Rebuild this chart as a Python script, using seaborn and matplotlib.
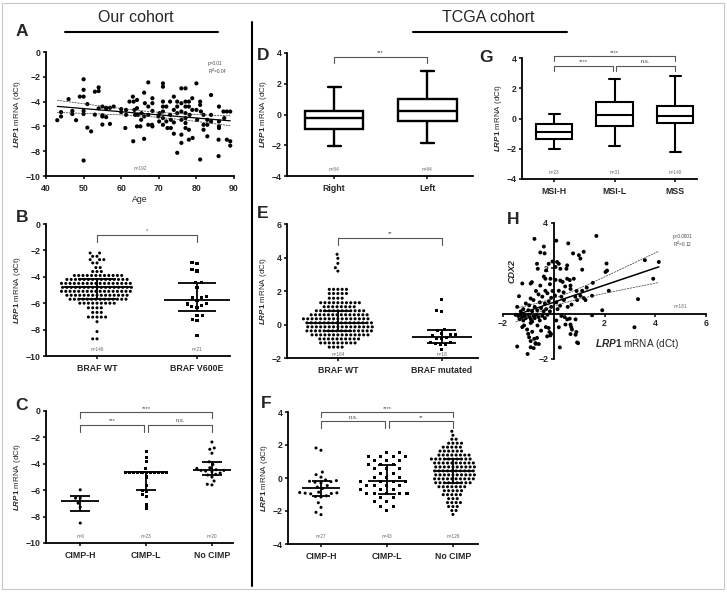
import numpy as np
import pandas as pd
import seaborn as sns
import matplotlib.pyplot as plt
from matplotlib.lines import Line2D
from matplotlib.patches import Rectangle

# -------------------
# Data
# -------------------
# A: age vs LRP1 dCt (our cohort)
a_age = [43, 44, 44, 46, 47, 47, 48, 49, 50, 50, 50, 50, 50, 50, 51, 51, 52, 53, 53,
         54, 54, 54, 55, 55, 55, 55, 56, 56, 56, 57, 57, 58, 60, 60,
         61.3, 61.3, 61.1, 62.2, 63.1, 63.3, 63.5, 63.7, 63.2, 64.2, 64.2, 64.4, 64.2,
         65.1, 65.4, 65.3, 66.1, 66.3, 66.1, 66.1, 67.2, 67.2, 67.2, 67.2,
         68.3, 68.3, 68.2, 68.3, 68.3, 69.9, 70.1, 70.2, 71.1, 71.1, 71.1, 71.1, 71.1, 71.1, 71.1,
         72, 72, 72.3, 73, 73, 73.2, 73.2, 74, 74, 74, 74, 74.9, 74.9, 74.9, 74.9,
         76, 76, 76, 76, 76, 76, 77.1, 77.1, 77.1, 77.1, 77.1, 77.1, 77.1,
         78, 78, 78.2, 78, 78, 78.9, 78.9, 79, 80, 80, 80.2, 81, 81, 81.2, 81,
         81.9, 81.9, 81.9, 82.9, 82.9, 82.9, 83.9, 83.9, 83.9, 86, 86, 86, 86, 85.9, 85.9,
         87.2, 87.4, 88.1, 88.1, 89, 89, 89]
a_lrp1 = [-5.5, -5.2, -4.85, -3.8, -4.75, -5.0, -5.5, -3.6, -2.2, -3.05, -3.6, -4.75, -5.0, -8.75,
          -4.2, -6.1, -6.4, -3.2, -5.05, -2.85, -3.15, -4.55, -4.4, -5.1, -5.85, -5.2,
          -4.55, -4.5, -5.25, -4.5, -5.8, -4.4, -4.6, -4.85,
          -4.67, -5.07, -6.13, -4.0, -3.6, -4.0, -4.67, -5.07, -7.2, -3.87, -4.53, -5.07, -6.0,
          -6.0, -4.93, -5.47, -3.28, -4.13, -5.2, -7.0, -2.45, -4.4, -5.87, -5.07,
          -3.73, -4.13, -5.87, -6.0, -4.75, -5.2, -5.6, -4.93, -2.53, -2.8, -4.0, -4.4, -4.8, -5.33, -5.87,
          -4.4, -5.6, -6.13, -4.0, -5.07, -5.47, -6.13, -3.6, -4.67, -5.68, -6.59, -4.0, -4.4, -4.93, -8.13,
          -2.93, -4.13, -4.8, -5.47, -6.67, -7.33, -2.93, -4.0, -4.4, -4.93, -5.33, -5.73, -6.13,
          -4.0, -4.4, -5.07, -6.27, -7.07, -3.73, -4.67, -6.93, -2.53, -4.67, -5.47, -4.0, -4.27, -4.8, -8.67,
          -5.07, -5.87, -6.27, -5.47, -5.87, -6.8, -3.47, -5.07, -5.6, -4.4, -5.6, -6.0, -6.13, -7.07, -8.4,
          -4.8, -5.33, -4.8, -7.07, -4.8, -7.2, -7.55]

# B: BRAF status (our cohort); WT column is drawn in rows of equal values
b_wt_levels = [-2.2, -2.45, -2.7, -2.95, -3.3, -3.6, -3.9, -4.2, -4.5, -4.8, -5.1,
               -5.4, -5.7, -6.0, -6.35, -6.7, -7.05, -7.4, -8.15, -8.7]
b_wt_counts = [2, 2, 3, 2, 2, 3, 12, 15, 17, 17, 17, 15, 14, 9, 4, 3, 5, 1, 1, 2]
b_v600e = [-2.9, -2.98, -3.48, -3.56, -4.44, -4.44, -4.8, -5.5, -5.56, -5.58, -5.76,
           -6.0, -6.06, -6.15, -6.26, -6.31, -6.9, -6.9, -7.22, -7.32, -8.43]

# C: CIMP status (our cohort)
c_cimp_h = [-5.97, -6.6, -6.6, -6.98, -7.28, -8.49]
c_cimp_l = [-3.07, -3.53, -3.83, -4.36, -4.65, -4.65, -4.65, -4.65, -4.65, -4.65, -4.65,
            -4.65, -4.65, -4.65, -4.65, -5.0, -5.65, -6.0, -6.1, -6.35, -6.45, -7.05, -7.35]
c_no_cimp = [-2.35, -2.8, -2.9, -3.2, -3.85, -4.05, -4.3, -4.35, -4.45, -4.5, -4.5, -4.55,
             -4.6, -4.7, -4.8, -4.85, -5.0, -5.3, -5.55, -5.6]

# D: tumour side (TCGA), box stats = min, q1, median, q3, max
d_right = [-2.06, -0.97, -0.25, 0.23, 1.78]
d_left = [-1.88, -0.40, 0.25, 1.01, 2.80]

# E: BRAF status (TCGA)
e_wt_levels = [4.19, 3.95, 3.65, 3.39, 3.19, 2.1, 1.85, 1.57, 1.3, 1.06, 0.82, 0.58,
               0.34, 0.1, -0.14, -0.38, -0.62, -0.86, -1.1, -1.35]
e_wt_counts = [1, 1, 1, 1, 1, 5, 5, 4, 10, 8, 12, 14, 16, 16, 16, 16, 14, 10, 9, 4]
e_mut = [1.47, 0.83, 0.78, -0.32, -0.35, -0.55, -0.6, -0.62, -0.65, -0.8, -0.82, -0.85,
         -1.05, -1.1, -1.12, -1.2, -1.22, -1.5]

# F: CIMP status (TCGA)
f_cimp_h = [1.82, 1.68, 0.36, 0.2, 0.05, -0.12, -0.16, -0.2, -0.22, -0.26, -0.3, -0.46, -0.55,
            -0.63, -0.86, -0.88, -0.9, -0.92, -0.94, -0.96, -1.08, -1.12, -1.15, -1.5, -1.78,
            -2.08, -2.22]
f_cimpl_levels = [1.55, 1.3, 1.05, 0.8, 0.55, 0.3, 0.05, -0.2, -0.45, -0.7, -0.95,
                  -1.2, -1.45, -1.7, -1.95]
f_cimpl_counts = [2, 4, 3, 3, 3, 2, 3, 4, 4, 3, 5, 2, 2, 2, 1]
f_no_levels = [2.83, 2.59, 2.35, 2.11, 1.87, 1.63, 1.39, 1.15, 0.91, 0.67, 0.43, 0.19,
               -0.05, -0.29, -0.53, -0.77, -1.01, -1.25, -1.49, -1.73, -1.97, -2.21]
f_no_counts = [1, 1, 2, 4, 5, 6, 8, 10, 10, 10, 10, 10, 10, 9, 7, 5, 5, 3, 4, 3, 2, 1]

# G: MSI status (TCGA), box stats = min, q1, median, q3, max
g_msi_h = [-2.0, -1.38, -0.87, -0.38, 0.3]
g_msi_l = [-1.85, -0.48, 0.22, 1.1, 2.62]
g_mss = [-2.2, -0.33, 0.18, 0.84, 2.84]

# H: LRP1 vs CDX2 (TCGA)
h_lrp1 = [-0.76, -0.39, -0.53, -0.36, -0.66, -0.63, -0.30, -0.39, -0.33, -0.86,
          -0.53, -0.33, -1.24, -0.91, -1.37, -0.91, -0.97, -1.44, -0.13, -0.20,
          -0.15, -0.70, -0.60, -0.45, -0.25, -0.10, -0.80, -0.55, -0.35, -0.20,
          -1.10, -1.20, -0.75, -0.50, -0.30, -0.10, -1.00, -0.85, -0.65, -0.40,
          -0.15, -1.30, -0.05, -0.05,
          -1.50, -1.40, -1.30, -1.25, -1.15, -1.10, -1.00, -0.95, -0.90, -0.80,
          -0.75, -0.70, -0.60, -0.55, -0.45, -0.35, -0.25, -1.35, -1.20, -0.85,
          -1.17, -1.24, -0.91, -0.64, -0.31, -0.17, -0.11, -1.44, -1.01, -0.97,
          -0.91, -0.77, -0.71, -1.03, -0.91, -0.20, -0.13, -0.26, -0.66, -0.72,
          -0.59, -0.79, -1.05, -0.50, -0.85,
          0.10, 0.57, 0.13, 0.20, 0.07, 0.26, 0.53, 0.50, 0.76, 0.99,
          1.18, 1.05, 1.12, 1.68, 1.54, 2.08, 2.04, 2.10, 0.07, 0.26,
          0.35, 0.53, 0.63, 0.79, 0.66, 0.20, 0.39, 0.66, 1.12, 1.05,
          1.18, 1.25, 0.92, 0.85, 1.51, 2.17, 3.32, 3.59, 4.14, 3.92,
          1.91, 0.10, 0.25, 0.40, 0.15, 0.55, 0.70, 0.05, 0.30, 0.45,
          1.30, 0.90,
          1.51, 3.18, 0.53, 0.66, 0.46, 0.86, 0.72, 0.66, 0.86, 0.92,
          0.24, 0.96, 0.89, 0.69, 0.63, 0.43, 0.30, 0.10, 0.20]
h_cdx2 = [3.30, 2.96, 2.70, 2.66, 2.20, 1.98, 1.91, 1.64, 1.54, 1.39,
          1.24, 1.01, 1.33, 1.33, 0.77, 0.67, 0.37, 0.30, 1.54, 2.20,
          1.30, 1.00, 0.85, 0.75, 0.90, 0.70, 0.60, 0.50, 0.45, 0.55,
          0.45, 0.20, 0.30, 0.25, 0.20, 0.30, 0.15, 0.10, 0.15, 0.10,
          0.10, 0.10, 1.00, 2.30,
          -0.05, -0.10, -0.02, -0.15, -0.08, -0.20, -0.05, -0.15, -0.25, -0.10,
          -0.20, -0.05, -0.15, -0.30, -0.10, -0.20, -0.05, -0.25, -0.30, -0.35,
          -0.52, -0.59, -0.41, -0.52, -0.59, -0.81, -0.89, -1.45, -0.89, -1.04,
          -1.21, -1.11, -1.33, -1.78, -1.48, -0.63, -0.96, -1.00, -1.07, -1.30,
          -1.34, -1.52, -0.70, -0.75, -0.80,
          3.22, 3.10, 2.28, 2.20, 2.06, 1.98, 2.13, 1.98, 2.66, 2.58,
          2.73, 2.43, 1.94, 3.43, 1.36, 2.21, 1.84, 1.90, 1.49, 1.46,
          1.40, 1.54, 1.48, 1.54, 1.24, 1.01, 0.94, 1.09, 1.01, 0.79,
          0.69, 0.60, 0.60, 0.75, 0.79, 1.01, 0.64, 2.36, 2.28, 1.54,
          0.15, 0.50, 0.35, 0.60, 0.20, 0.30, 0.40, 0.80, 0.75, 1.20,
          1.15, 1.00,
          -0.07, -0.60, -0.25, -0.48, -0.48, -0.25, -0.70, -0.90, -0.93, -1.27,
          -1.49, -1.30, -0.81, -0.59, -0.22, -0.15, -0.10, -0.30, -0.60]

# -------------------
# Styling
# -------------------
sns.set_theme(style="ticks")
plt.rcParams['font.family'] = ['Liberation Sans', 'DejaVu Sans']
plt.rcParams['font.weight'] = 'bold'
plt.rcParams['mathtext.fontset'] = 'custom'
plt.rcParams['mathtext.rm'] = 'Liberation Sans'
plt.rcParams['mathtext.it'] = 'Liberation Sans:italic'
plt.rcParams['mathtext.bf'] = 'Liberation Sans:bold'

FW, FH = 727, 594
LRP1_LABEL = r"$\mathit{LRP1}$ mRNA (dCt)"
BRK = '#555555'


def rect(l, t, r, b):
    return [l / FW, 1 - b / FH, (r - l) / FW, (b - t) / FH]


def fxy(x, y):
    return x / FW, 1 - y / FH


def style(ax, yticks, xlim=None, ylabel=True):
    sns.despine(ax=ax)
    for s in ['left', 'bottom']:
        ax.spines[s].set_linewidth(1.3)
        ax.spines[s].set_color('black')
    ax.set_yticks(yticks)
    ax.set_ylim(min(yticks), max(yticks))
    if xlim is not None:
        ax.set_xlim(*xlim)
        ax.tick_params(axis='x', length=0, pad=3)
    ax.tick_params(labelsize=6.3, width=1.1, length=2.5, color='black')
    ax.tick_params(axis='y', pad=1.5)
    ax.set_xlabel('')
    ax.set_ylabel(LRP1_LABEL if ylabel else '', fontsize=5.8, fontweight='normal', labelpad=1.5)
    ax.set_facecolor('none')


def swarm(ax, groups, names, markers, pads=None, size=2.2):
    # pad = invisible edge width, widens the spacing between neighbouring dots
    pads = pads or [0.75] * len(groups)
    for g, name, mk, pad in zip(groups, names, markers, pads):
        sns.swarmplot(x=[name] * len(g), y=g, order=names, marker=mk, size=size,
                      color='black', edgecolor='none', linewidth=pad, warn_thresh=1, ax=ax)


def median_iqr(ax, groups, half=0.3, cap=0.15, lw=1.3):
    for i, g in enumerate(groups):
        q1, med, q3 = np.percentile(g, [25, 50, 75], method='weibull')
        kw = dict(color='black', lw=lw, zorder=4, solid_capstyle='butt')
        ax.plot([i - half, i + half], [med, med], **kw)
        ax.plot([i, i], [q1, q3], **kw)
        ax.plot([i - cap, i + cap], [q1, q1], **kw)
        ax.plot([i - cap, i + cap], [q3, q3], **kw)


def bracket(ax, x1, x2, y, h, label):
    ax.plot([x1, x1, x2, x2], [y - h, y, y, y - h], color=BRK, lw=0.8, clip_on=False)
    ax.text((x1 + x2) / 2, y + h * 0.25, label, ha='center', va='bottom',
            fontsize=4.2, color='#444444', fontweight='normal')


def n_labels(ax, labels, y):
    for i, lab in enumerate(labels):
        ax.text(i, y, lab, ha='center', va='center', fontsize=3.4,
                color='#666666', fontweight='normal')


def narrow_caps(ax, stats, half):
    for line in ax.lines:
        xd = np.asarray(line.get_xdata(), float)
        yd = np.asarray(line.get_ydata(), float)
        if len(xd) == 2 and yd[0] == yd[1] and xd[0] != xd[1]:
            for i, st in enumerate(stats):
                if abs(xd.mean() - i) < 0.05 and (np.isclose(yd[0], min(st)) or np.isclose(yd[0], max(st))):
                    line.set_xdata([i - half, i + half])


def fit_lines(ax, x, y, lw=1.0):
    x = np.asarray(x, float)
    y = np.asarray(y, float)
    b, a = np.polyfit(x, y, 1)
    xs = np.linspace(x.min(), x.max(), 60)
    n = len(x)
    s = np.sqrt(np.sum((y - (a + b * x)) ** 2) / (n - 2))
    se = s * np.sqrt(1 / n + (xs - x.mean()) ** 2 / np.sum((x - x.mean()) ** 2))
    ax.plot(xs, a + b * xs, color='black', lw=lw, zorder=4)
    for sign in (1, -1):
        ax.plot(xs, a + b * xs + sign * 1.97 * se, color='#333333', lw=0.5,
                ls=(0, (3, 1.2)), zorder=4)


fig = plt.figure(figsize=(7.27, 5.94), dpi=100)

# -------------------
# A: scatter vs age
# -------------------
ax = fig.add_axes(rect(46, 52, 234, 176))
sns.scatterplot(x=a_age, y=a_lrp1, s=9, color='black', edgecolor='none', ax=ax)
fit_lines(ax, a_age, a_lrp1, lw=0.9)
style(ax, [-10, -8, -6, -4, -2, 0])
ax.set_xlim(40, 90)
ax.set_xticks([40, 50, 60, 70, 80, 90])
ax.set_xlabel('Age', fontsize=6.3, labelpad=1)
ax.text(83.0, -1.35, "p=0.01\nR$^2$=0.04", fontsize=3.4, ha='left', va='center',
        color='#444444', fontweight='normal', linespacing=1.1)
ax.text(65, -9.4, "n=192", fontsize=3.4, ha='center', va='center', color='#666666',
        fontweight='normal')

# -------------------
# B: BRAF (our cohort)
# -------------------
ax = fig.add_axes(rect(46, 224, 230, 356))
b_wt = np.repeat(b_wt_levels, b_wt_counts)
swarm(ax, [b_wt, b_v600e], ['BRAF WT', 'BRAF V600E'], ['o', 's'], pads=[0.75, 1.3])
median_iqr(ax, [b_wt, b_v600e], half=0.33, cap=0.19)
style(ax, [-10, -8, -6, -4, -2, 0], xlim=(-0.51, 1.33))
bracket(ax, 0, 1, -0.8, 0.55, '*')
n_labels(ax, ['n=146', 'n=21'], -9.5)

# -------------------
# C: CIMP (our cohort)
# -------------------
ax = fig.add_axes(rect(46, 411, 233, 543))
swarm(ax, [c_cimp_h, c_cimp_l, c_no_cimp], ['CIMP-H', 'CIMP-L', 'No CIMP'], ['o', 's', 'o'],
      pads=[1.0, 0.6, 1.0])
median_iqr(ax, [c_cimp_h, c_cimp_l, c_no_cimp], half=0.29, cap=0.15)
style(ax, [-10, -8, -6, -4, -2, 0], xlim=(-0.52, 2.32))
bracket(ax, 0, 2, -0.1, 0.4, '****')
bracket(ax, 0, 0.97, -1.06, 0.5, '***')
bracket(ax, 1.03, 2, -1.06, 0.5, 'n.s.')
n_labels(ax, ['n=6', 'n=23', 'n=20'], -9.5)

# -------------------
# D: side (TCGA) box plot
# -------------------
ax = fig.add_axes(rect(287, 53, 473, 176))
d_df = pd.DataFrame({'side': ['Right'] * len(d_right) + ['Left'] * len(d_left),
                     'val': d_right + d_left})
sns.boxplot(data=d_df, x='side', y='val', order=['Right', 'Left'], whis=(0, 100),
            width=0.63, color='white', linecolor='black', linewidth=1.7,
            showfliers=False, ax=ax)
narrow_caps(ax, [d_right, d_left], 0.07)
style(ax, [-4, -2, 0, 2, 4], xlim=(-0.505, 1.49))
bracket(ax, 0, 1, 3.74, 0.4, '***')
n_labels(ax, ['n=54', 'n=84'], -3.6)

# -------------------
# E: BRAF (TCGA)
# -------------------
ax = fig.add_axes(rect(287, 224, 478, 358))
e_wt = np.repeat(e_wt_levels, e_wt_counts)
swarm(ax, [e_wt, e_mut], ['BRAF WT', 'BRAF mutated'], ['o', 's'], pads=[0.75, 1.3])
median_iqr(ax, [e_wt, e_mut], half=0.29, cap=0.14)
style(ax, [-2, 0, 2, 4, 6], xlim=(-0.49, 1.35))
bracket(ax, 0, 1, 5.18, 0.45, '**')
n_labels(ax, ['n=164', 'n=18'], -1.8)

# -------------------
# F: CIMP (TCGA)
# -------------------
ax = fig.add_axes(rect(288, 412, 478, 544))
f_cimp_l = np.repeat(f_cimpl_levels, f_cimpl_counts)
f_no = np.repeat(f_no_levels, f_no_counts)
swarm(ax, [f_cimp_h, f_cimp_l, f_no], ['CIMP-H', 'CIMP-L', 'No CIMP'], ['o', 's', 'o'],
      pads=[1.6, 3.0, 0.75])
median_iqr(ax, [f_cimp_h, f_cimp_l, f_no], half=0.29, cap=0.14)
style(ax, [-4, -2, 0, 2, 4], xlim=(-0.5, 2.38))
bracket(ax, 0, 2, 4.0, 0.32, '****')
bracket(ax, 0, 0.97, 3.43, 0.4, 'n.s.')
bracket(ax, 1.03, 2, 3.43, 0.4, '**')
n_labels(ax, ['n=27', 'n=43', 'n=126'], -3.55)

# -------------------
# G: MSI (TCGA) box plot
# -------------------
ax = fig.add_axes(rect(522, 58, 697, 179))
g_names = ['MSI-H', 'MSI-L', 'MSS']
g_df = pd.DataFrame({'msi': [g_names[0]] * 5 + [g_names[1]] * 5 + [g_names[2]] * 5,
                     'val': g_msi_h + g_msi_l + g_mss})
sns.boxplot(data=g_df, x='msi', y='val', order=g_names, whis=(0, 100), width=0.6,
            color='white', linecolor='black', linewidth=1.5, showfliers=False, ax=ax)
narrow_caps(ax, [g_msi_h, g_msi_l, g_mss], 0.09)
style(ax, [-4, -2, 0, 2, 4], xlim=(-0.53, 2.36))
bracket(ax, 0, 2, 4.1, 0.32, '****')
bracket(ax, 0, 0.97, 3.5, 0.33, '****')
bracket(ax, 1.03, 2, 3.5, 0.33, 'n.s.')
n_labels(ax, ['n=23', 'n=31', 'n=140'], -3.6)

# -------------------
# H: LRP1 vs CDX2 (TCGA)
# -------------------
ax = fig.add_axes(rect(503, 223, 706, 359))
sns.scatterplot(x=h_lrp1, y=h_cdx2, s=8, color='black', edgecolor='none', ax=ax)
fit_lines(ax, h_lrp1, h_cdx2, lw=1.1)
sns.despine(ax=ax)
ax.set_facecolor('none')
ax.set_xlim(-2, 6)
ax.set_ylim(-2, 4)
for s in ['left', 'bottom']:
    ax.spines[s].set_position(('data', 0))
    ax.spines[s].set_linewidth(1.3)
    ax.spines[s].set_color('black')
ax.set_xticks([-2, 2, 4, 6])
ax.set_yticks([-2, 2, 4])
ax.tick_params(labelsize=6.3, width=1.1, length=2.5, pad=1.5, color='black')
ax.text(-1.65, 1.9, 'CDX2', rotation=90, ha='center', va='center', fontsize=6.5,
        fontweight='bold', fontstyle='italic')
ax.text(3.3, -1.35, LRP1_LABEL, ha='center', va='center', fontsize=7.2, fontweight='normal')
ax.text(4.7, 3.2, "p<0.0001\nR$^2$=0.12", fontsize=3.4, ha='left', va='center',
        color='#444444', fontweight='normal', linespacing=1.1)
ax.text(5.0, 0.3, "n=181", fontsize=3.4, ha='center', va='center', color='#666666',
        fontweight='normal')

# -------------------
# Panel letters, headers, dividers, frame
# -------------------
for letter, (x, y) in {'A': (22, 32), 'B': (22, 218), 'C': (22, 405), 'D': (263, 55),
                       'E': (263, 213), 'F': (266, 403), 'G': (486, 57), 'H': (513, 220)}.items():
    fig.text(*fxy(x, y), letter, fontsize=12.5, fontweight='bold', ha='center', va='center')

fig.text(*fxy(136, 17), 'Our cohort', fontsize=11.5, fontweight='normal', ha='center', va='center')
fig.text(*fxy(488, 17), 'TCGA cohort', fontsize=11.5, fontweight='normal', ha='center', va='center')
fig.add_artist(Line2D([65 / FW, 218 / FW], [1 - 32 / FH] * 2, color='black', lw=1.5))
fig.add_artist(Line2D([413 / FW, 567 / FW], [1 - 32 / FH] * 2, color='black', lw=1.5))
fig.add_artist(Line2D([252 / FW] * 2, [1 - 22 / FH, 1 - 586 / FH], color='black', lw=1.5))
fig.add_artist(Rectangle((2 / FW, 1 - 589 / FH), 722 / FW, 586 / FH, fill=False,
                         edgecolor='#c8c8c8', lw=0.8, transform=fig.transFigure))

fig.savefig('out.png', dpi=100, facecolor='white')
plt.close(fig)
